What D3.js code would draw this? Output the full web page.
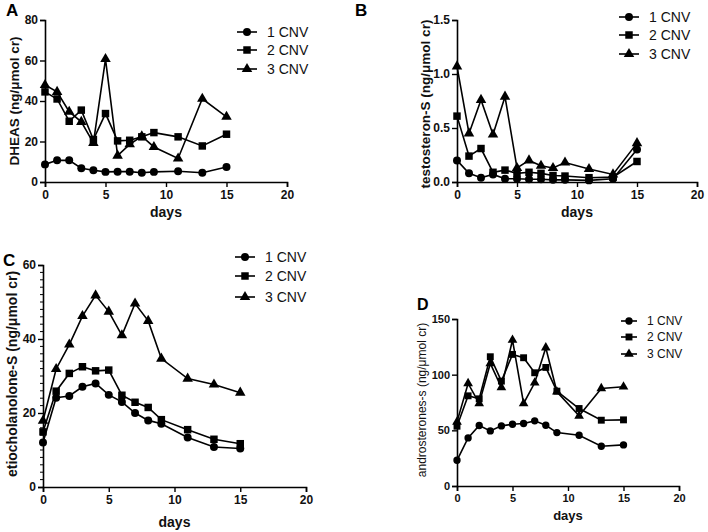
<!DOCTYPE html>
<html><head><meta charset="utf-8">
<script src="https://cdn.jsdelivr.net/npm/d3@7"></script>
<style>body{margin:0;background:#fff}svg{display:block}text{font-family:"Liberation Sans",Arial,sans-serif}</style>
</head><body><svg id="c" width="708" height="532"></svg>
<script>
const days = [0,1,2,3,4,5,6,7,8,9,11,13,15];
const seriesNames = ["1 CNV","2 CNV","3 CNV"];
const xTicks = [0,5,10,15,20];

const dheas1 = [8.7,10.7,10.7,6.8,5.8,5.0,5.1,5.1,4.6,5.0,5.3,4.6,7.4];
const dheas2 = [44.5,41.0,30.0,35.5,21.0,33.8,20.3,20.6,22.3,24.4,22.3,17.8,23.6];
const dheas3 = [47.9,44.5,34.7,29.7,19.3,60.7,13.0,18.6,22.6,17.3,11.6,41.1,32.2];

const testo1 = [0.20,0.08,0.04,0.07,0.03,0.03,0.025,0.025,0.02,0.02,0.015,0.03,0.30];
const testo2 = [0.61,0.24,0.31,0.09,0.11,0.08,0.09,0.08,0.06,0.055,0.04,0.045,0.19];
const testo3 = [1.07,0.45,0.76,0.44,0.79,0.13,0.20,0.15,0.13,0.18,0.12,0.07,0.36];

const etio1 = [12.0,24.1,24.6,27.1,28.0,24.9,23.0,20.0,18.0,17.1,13.4,10.8,10.4];
const etio2 = [14.9,25.9,30.7,32.5,31.4,31.6,24.8,22.9,21.5,18.2,15.5,12.9,11.7];
const etio3 = [17.9,31.9,38.5,46.2,51.8,47.4,41.0,49.6,44.9,34.7,29.3,27.7,25.5];

const andro1 = [23.1,43.2,54.3,49.5,54.0,55.5,56.1,58.5,54.6,48.0,45.6,35.7,36.9];
const andro2 = [53.7,81.0,78.3,116.1,94.2,118.2,115.2,101.7,106.5,85.2,69.6,59.1,59.4];
const andro3 = [57.6,92.1,74.1,110.1,88.5,131.1,74.1,92.7,124.2,84.6,63.0,87.6,89.1];

const yTicksA = [0,20,40,60,80];
const yTicksB = [0,0.5,1.0,1.5];
const yTicksC = [0,20,40,60];
const yTicksD = [0,50,100,150];

const svg = d3.select("#c");
const symTypes = [d3.symbolCircle, d3.symbolSquare, d3.symbolTriangle];
const symSizes = [50, 56, 48];

function panel(cfg){
  const g = svg.append("g");
  const x = d3.scaleLinear().domain([0,20]).range([cfg.x0, cfg.x1]);
  const y = d3.scaleLinear().domain([0, cfg.ymax]).range([cfg.y0, cfg.y1]);
  const fs = cfg.fs || 12;
  // axes
  const xa = g.append("g").attr("transform",`translate(0,${cfg.y0})`)
    .call(d3.axisBottom(x).tickValues(xTicks).tickSize(5).tickPadding(3).tickFormat(d3.format("d")));
  const ya = g.append("g").attr("transform",`translate(${cfg.x0},0)`)
    .call(d3.axisLeft(y).tickValues(cfg.yTicks).tickSize(5).tickPadding(2).tickFormat(cfg.fmt));
  [xa,ya].forEach(a=>{
    a.select(".domain").attr("stroke","#000").attr("stroke-width",1.6);
    a.selectAll(".tick line").attr("stroke","#000").attr("stroke-width",1.4);
    a.selectAll("text").attr("fill","#111").style("font-size",fs+"px").style("font-weight","bold");
  });
  if (cfg.minor){
    ya.selectAll(".minor").data(d3.range(0, cfg.ymax, cfg.minor).filter(v=>!cfg.yTicks.includes(v)))
      .enter().append("line").attr("class","minor")
      .attr("x1",-3).attr("x2",0).attr("y1",d=>y(d)).attr("y2",d=>y(d))
      .attr("stroke","#000").attr("stroke-width",1);
  }
  // titles
  g.append("text").attr("x",(cfg.x0+x(20))/2).attr("y",cfg.daysY).attr("text-anchor","middle")
    .style("font-size",(fs+2)+"px").style("font-weight","bold").attr("fill","#111").text("days");
  g.append("text").attr("transform",`translate(${cfg.ytX},${cfg.ytY}) rotate(-90)`)
    .attr("text-anchor","middle").style("font-size",cfg.ytFs+"px")
    .style("font-weight",cfg.ytW||"bold").attr("fill","#111").text(cfg.ytitle);
  g.append("text").attr("x",cfg.lx).attr("y",cfg.ly).style("font-size",cfg.lfs+"px")
    .style("font-weight","bold").attr("fill","#000").text(cfg.letter);
  // series
  const line = d3.line().x((d,i)=>x(days[i])).y(d=>y(d));
  cfg.series.forEach((s,k)=>{
    g.append("path").datum(s).attr("d",line).attr("fill","none").attr("stroke","#000").attr("stroke-width",1.6);
    g.selectAll(null).data(s).enter().append("path")
      .attr("transform",(d,i)=>`translate(${x(days[i])},${y(d)})`)
      .attr("d",d3.symbol().type(symTypes[k]).size(symSizes[k]*(cfg.ms||1))).attr("fill","#000");
  });
  // legend
  seriesNames.forEach((n,k)=>{
    const ly = cfg.legY[k];
    g.append("line").attr("x1",cfg.legX).attr("x2",cfg.legX+cfg.legW).attr("y1",ly).attr("y2",ly)
      .attr("stroke","#000").attr("stroke-width",1.6);
    g.append("path").attr("transform",`translate(${cfg.legX+cfg.legW/2},${ly})`)
      .attr("d",d3.symbol().type(symTypes[k]).size(symSizes[k]*(cfg.ms||1))).attr("fill","#000");
    g.append("text").attr("x",cfg.legX+cfg.legW+10).attr("y",ly).attr("dy","0.35em")
      .style("font-size",cfg.legFs+"px").attr("fill","#111").text(n);
  });
}

panel({x0:45,x1:287,y0:182,y1:20,ymax:80,yTicks:yTicksA,fmt:d3.format("d"),
  series:[dheas1,dheas2,dheas3],daysY:217,ytX:19,ytY:101,ytFs:13.5,ytitle:"DHEAS (ng/μmol cr)",
  letter:"A",lx:6,ly:16,lfs:17,legX:237,legW:20,legY:[32,50,69],legFs:14});

panel({x0:457,x1:697,y0:182,y1:20,ymax:1.5,yTicks:yTicksB,fmt:d3.format(".1f"),
  series:[testo1,testo2,testo3],daysY:217,ytX:430,ytY:104,ytFs:13.5,ytitle:"testosteron-S (ng/μmol cr)",
  letter:"B",lx:355,ly:16,lfs:17,legX:619,legW:20,legY:[17,35,54],legFs:14});

panel({x0:43,x1:306,y0:487,y1:265,ymax:60,yTicks:yTicksC,fmt:d3.format("d"),minor:2,
  series:[etio1,etio2,etio3],daysY:527,ytX:17,ytY:374,ytFs:14,ytitle:"etiocholanolone-S (ng/μmol cr)",
  letter:"C",lx:3,ly:266,lfs:17,legX:235,legW:20,legY:[257,276,297],legFs:14});

panel({x0:457,x1:679,y0:486,y1:319,ymax:150,yTicks:yTicksD,fmt:d3.format("d"),fs:11,ms:0.85,
  series:[andro1,andro2,andro3],daysY:520,ytX:426,ytY:400,ytFs:12,ytW:"normal",ytitle:"androsterones-s (ng/μmol cr)",
  letter:"D",lx:417,ly:310,lfs:16,legX:621,legW:16,legY:[321,337,354],legFs:12});
</script></body></html>
